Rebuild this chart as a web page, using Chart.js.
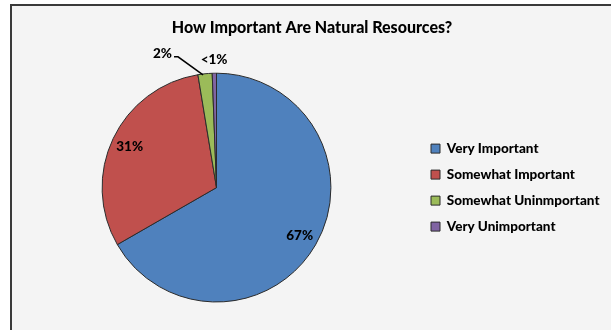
<!DOCTYPE html>
<html>
<head>
<meta charset="utf-8">
<script src="https://cdn.jsdelivr.net/npm/chart.js@4.4.1/dist/chart.umd.min.js"></script>
<style>
    html, body { margin: 0; padding: 0; background: #ffffff; }
    #wrap { position: relative; width: 611px; height: 330px; overflow: hidden; }
    #frame {
        position: absolute; left: 10px; top: 4px; width: 640px; height: 360px;
        background: #f4f4f4; border-left: 2px solid #3a3a3a; border-top: 2px solid #3a3a3a;
    }
    canvas { position: absolute; left: 0; top: 0; }
</style>
</head>
<body>
<div id="wrap">
    <div id="frame"></div>
    <canvas id="chart" width="611" height="330"></canvas>
</div>
<script>
const categories = ["Very Important", "Somewhat Important", "Somewhat Uninmportant", "Very Unimportant"];
const shares = [66.7, 30.7, 2.0, 0.6];
const shareLabels = ["67%", "31%", "2%", "<1%"];
const sliceColors = ["#4f81bd", "#c0504d", "#9bbb59", "#8064a2"];

// where each value label sits (fraction of radius along the slice middle)
const labelPlacement = [
    { r: 0.84 },
    { r: 0.84 },
    { leader: true, dx: -27, dy: -17, tail: 4 },
    { r: 1.12 }
];

const sliceLabels = {
    id: "sliceLabels",
    afterDatasetsDraw(chart) {
        const ctx = chart.ctx;
        const meta = chart.getDatasetMeta(0);
        ctx.save();
        ctx.font = "900 13.5px Lato";
        ctx.fillStyle = "#000000";
        ctx.textBaseline = "middle";
        meta.data.forEach((arc, i) => {
            const p = arc.getProps(["x", "y", "startAngle", "endAngle", "outerRadius"], true);
            const mid = (p.startAngle + p.endAngle) / 2;
            const place = labelPlacement[i];
            if (place.leader) {
                const ex = p.x + Math.cos(mid) * p.outerRadius;
                const ey = p.y + Math.sin(mid) * p.outerRadius;
                const kx = ex + place.dx, ky = ey + place.dy;
                ctx.strokeStyle = "#000000";
                ctx.lineWidth = 1.5;
                ctx.beginPath();
                ctx.moveTo(ex - 2, ey + 1);
                ctx.lineTo(kx, ky);
                ctx.lineTo(kx - place.tail, ky);
                ctx.stroke();
                ctx.textAlign = "right";
                ctx.fillText(shareLabels[i], kx - place.tail - 2, ky - 3);
            } else {
                ctx.textAlign = "center";
                ctx.fillText(shareLabels[i],
                    p.x + Math.cos(mid) * p.outerRadius * place.r,
                    p.y + Math.sin(mid) * p.outerRadius * place.r);
            }
        });
        ctx.restore();
    }
};

new Chart(document.getElementById("chart"), {
    type: "pie",
    data: {
        labels: categories,
        datasets: [{
            data: shares,
            backgroundColor: sliceColors,
            borderColor: "#2b2b2b",
            borderWidth: 1
        }]
    },
    plugins: [sliceLabels],
    options: {
        responsive: false,
        animation: false,
        layout: { padding: { left: 14.5, right: 1.5, top: 0, bottom: 27.5 } },
        plugins: {
            title: {
                display: true,
                text: "How Important Are Natural Resources?",
                color: "#000000",
                font: { family: "Lato", size: 16, weight: "900" },
                padding: { top: 18.5, bottom: 35 }
            },
            legend: {
                position: "right",
                fullSize: false,
                labels: {
                    color: "#000000",
                    font: { family: "Lato", size: 13.5, weight: "900" },
                    boxWidth: 9,
                    boxHeight: 9,
                    padding: 12.5
                }
            },
            tooltip: { enabled: false }
        }
    }
});
</script>
</body>
</html>
